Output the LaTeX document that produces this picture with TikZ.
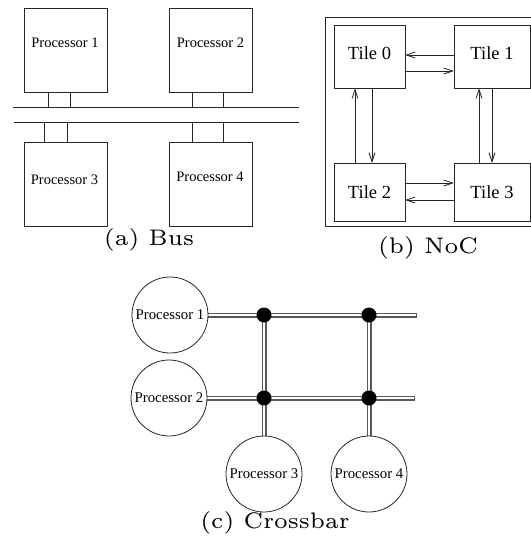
\documentclass[tikz,border=0pt]{standalone}
\usepackage{fontspec}
\usepackage{graphicx}
\newfontfamily\timesfont{Liberation Serif}
\usetikzlibrary{arrows.meta,backgrounds}

% captions: small optical size of Latin Modern, scaled up
\newcommand{\capt}[1]{\scalebox{3.75}{\fontfamily{lmr}\fontsize{6}{7}\selectfont #1}}

\tikzset{
  every node/.style={inner sep=0pt, outer sep=0pt},
  wire/.style={draw=black!85, line width=0.8pt},
  pbox/.style={draw=black!85, line width=0.8pt, minimum width=83pt, minimum height=84pt},
  ptext/.style={font=\timesfont\fontsize{14.5}{16}\selectfont},
  tile/.style={draw=black!85, line width=0.8pt, minimum width=71pt,
    font=\timesfont\fontsize{18.5}{20}\selectfont},
  arr/.style={draw=black!85, line width=0.8pt, -{Straight Barb[length=9pt,width=6pt]}},
  proc/.style={circle, draw=black!85, line width=0.8pt, fill=white, minimum size=76pt,
    font=\timesfont\fontsize{14.8}{16}\selectfont},
  junction/.style={circle, fill=black, minimum size=15pt},
  bar/.style={draw=black!65, line width=1.2pt, double=white, double distance=2.6pt, line cap=rect},
  caption/.style={anchor=center}
}

\begin{document}
\begin{tikzpicture}[x=1pt, y=-1pt]
\useasboundingbox (0,0) rectangle (531,542);
\clip (0,0) rectangle (531,542);

% ---------------- (a) Bus ----------------
\node[pbox] (p1) at (65.5,50) {};
\node[pbox] (p2) at (210.5,50) {};
\node[pbox] (p3) at (65.5,184) {};
\node[pbox] (p4) at (210.5,184) {};
\node[ptext] (p1t) at (65,43) {Processor 1};
\node[ptext] (p2t) at (210.5,43) {Processor 2};
\node[ptext] (p3t) at (64.5,180) {Processor 3};
\node[ptext] (p4t) at (210,177) {Processor 4};

\coordinate (busAl) at (13,107);
\coordinate (busAr) at (299,107);
\coordinate (busBl) at (14,122);
\coordinate (busBr) at (299,122);
\draw[wire] (busAl) -- (busAr);
\draw[wire] (busBl) -- (busBr);

% bus taps
\coordinate (a1) at (48,107);  \coordinate (a2) at (70,107);
\coordinate (a3) at (192,107); \coordinate (a4) at (223,107);
\coordinate (b1) at (44,122);  \coordinate (b2) at (67,122);
\coordinate (b3) at (192,122); \coordinate (b4) at (223,122);
\draw[wire] (p1.south -| a1) -- (a1);
\draw[wire] (p1.south -| a2) -- (a2);
\draw[wire] (p2.south -| a3) -- (a3);
\draw[wire] (p2.south -| a4) -- (a4);
\draw[wire] (p3.north -| b1) -- (b1);
\draw[wire] (p3.north -| b2) -- (b2);
\draw[wire] (p4.north -| b3) -- (b3);
\draw[wire] (p4.north -| b4) -- (b4);

\node[caption] (capa) at (149,240) {\capt{(a) Bus}};

% ---------------- (b) NoC ----------------
\coordinate (fr1) at (531,17);
\coordinate (fr2) at (325,17);
\coordinate (fr3) at (325,226);
\coordinate (fr4) at (531,226);
\draw[wire] (fr1) -- (fr2) -- (fr3) -- (fr4);

\node[tile, minimum height=62.5pt, text depth=8pt] (t0) at (369.5,57) {Tile 0};
\node[tile, minimum width=76pt, minimum height=62.5pt, text depth=8pt] (t1) at (492,57) {Tile 1};
\node[tile, minimum height=58pt] (t2) at (369.5,192) {Tile 2};
\node[tile, minimum width=76pt, minimum height=58pt] (t3) at (492,192) {Tile 3};

\draw[arr] (t1.west |- 0,55) -- (t0.east |- 0,55);
\draw[arr] (t0.east |- 0,71) -- (t1.west |- 0,71);
\draw[arr] (t2.north -| 355,0) -- (t0.south -| 355,0);
\draw[arr] (t0.south -| 372,0) -- (t2.north -| 372,0);
\draw[arr] (t3.north -| 479,0) -- (t1.south -| 479,0);
\draw[arr] (t1.south -| 492,0) -- (t3.north -| 492,0);
\draw[arr] (t2.east |- 0,183) -- (t3.west |- 0,183);
\draw[arr] (t3.west |- 0,200) -- (t2.east |- 0,200);

\node[caption] (capb) at (428,248) {\capt{(b) NoC}};

% ---------------- (c) Crossbar ----------------
\node[proc] (c1) at (170,315) {Processor 1};
\node[proc] (c2) at (169,398) {Processor 2};
\node[proc] (c3) at (264,474) {Processor 3};
\node[proc] (c4) at (369,474) {Processor 4};

\node[junction] (d11) at (264,315) {};
\node[junction] (d12) at (369,315) {};
\node[junction] (d21) at (264,398) {};
\node[junction] (d22) at (369,398) {};

\coordinate (e1) at (414.5,315);
\coordinate (e2) at (412.5,398);

\begin{scope}[on background layer]
  \draw[bar] (c1.center) -- (e1);
  \draw[bar] (c2.center) -- (e2);
  \draw[bar] (d11.center) -- (c3.center);
  \draw[bar] (d12.center) -- (c4.center);
\end{scope}

\node[caption] (capc) at (275,523) {\capt{(c) Crossbar}};
\end{tikzpicture}
\end{document}
